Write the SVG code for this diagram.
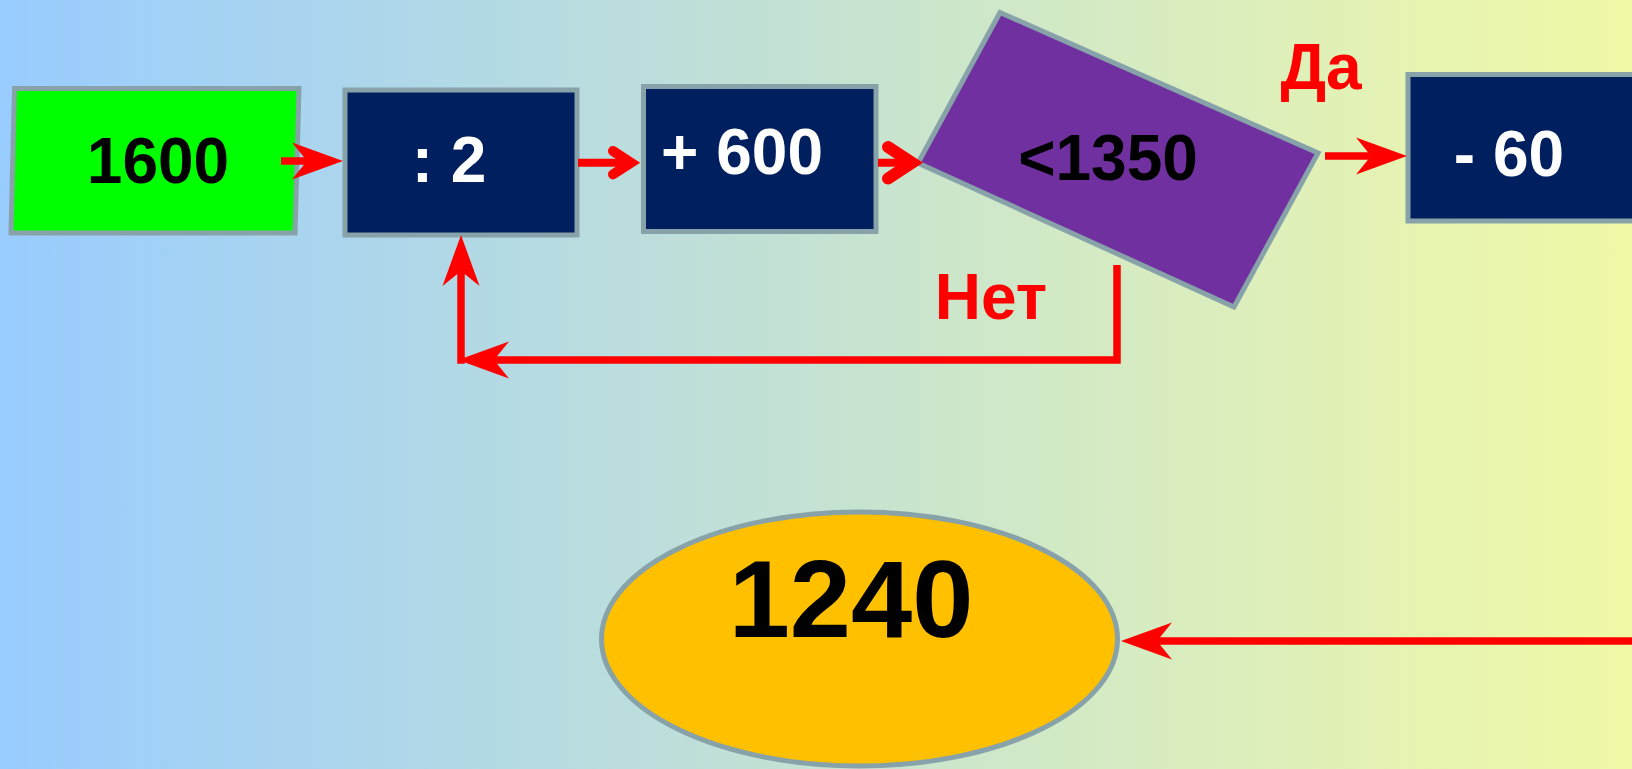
<svg xmlns="http://www.w3.org/2000/svg" width="1632" height="769" viewBox="0 0 1632 769">
  <defs>
    <linearGradient id="bg" x1="0" y1="0" x2="1" y2="0">
      <stop offset="0" stop-color="#99CCFF"/>
      <stop offset="1" stop-color="#F1F9A6"/>
    </linearGradient>
    <marker id="stealth" markerUnits="userSpaceOnUse" viewBox="-20 -20 60 40" markerWidth="60" markerHeight="40" refX="0" refY="0" orient="auto" overflow="visible">
      <path d="M36,0 L-15,-18.5 L0,0 L-15,18.5 Z" fill="#FF0000"/>
    </marker>
    <style>
      .node { stroke: #87A2A8; stroke-width: 5; }
      .navy { fill: #001F5F; }
      .lbl { font-family: "Liberation Sans", Arial, sans-serif; font-weight: bold; font-size: 64px; text-anchor: middle; }
      .white { fill: #FFFFFF; }
      .black { fill: #000000; }
      .red { fill: #FF0000; }
      .conn { fill: none; stroke: #FF0000; stroke-width: 7.5; }
      .shaft { fill: none; stroke: #FF0000; stroke-width: 8; }
      .chev { fill: none; stroke: #FF0000; stroke-linecap: round; stroke-linejoin: miter; stroke-miterlimit: 6; }
    </style>
  </defs>

  <rect x="0" y="0" width="1632" height="769" fill="url(#bg)"/>

  <g id="node-1600">
    <polygon class="node" points="14.5,88.5 299,88.5 295,233 11,233" fill="#00FF00"/>
    <text class="lbl black" x="158" y="183">1600</text>
  </g>

  <g id="node-div2">
    <rect class="node navy" x="345" y="90" width="232" height="145"/>
    <text class="lbl white" x="449" y="182">: 2</text>
  </g>

  <g id="node-plus600">
    <rect class="node navy" x="643.5" y="86.5" width="232.5" height="145"/>
    <text class="lbl white" x="742" y="174">+ 600</text>
  </g>

  <g id="node-cond">
    <polygon class="node" points="1000,12.5 1318,153 1234,307 918,163" fill="#7030A0"/>
    <text class="lbl black" x="1108" y="180">&lt;1350</text>
  </g>

  <g id="node-minus60">
    <rect class="node navy" x="1408" y="74.5" width="240" height="146.5"/>
    <text class="lbl white" x="1509" y="176">- 60</text>
  </g>

  <g id="node-1240">
    <ellipse class="node" cx="859.5" cy="639" rx="258" ry="127" fill="#FFC000"/>
    <text class="lbl black" x="851" y="637" style="font-size:110px">1240</text>
  </g>

  <g id="connectors">
    <path class="conn" d="M281,161 H307" marker-end="url(#stealth)"/>
    <path class="shaft" d="M578,162.7 H632"/>
    <path class="chev" style="stroke-width:10" d="M613,151 L631,162.7 L613,174.4"/>
    <path class="shaft" d="M878,162.7 H912"/>
    <path class="chev" style="stroke-width:12" d="M888,147 L912,162.7 L888,178.4"/>
    <path class="conn" d="M1325,156 H1371" marker-end="url(#stealth)"/>
    <path class="conn" d="M461,363.75 V271" marker-end="url(#stealth)"/>
    <path class="conn" d="M1117,265 V360 H494" marker-end="url(#stealth)"/>
    <path class="conn" d="M1632,641 H1157" marker-end="url(#stealth)"/>
  </g>

  <g id="labels">
    <text class="lbl red" x="991" y="319">Нет</text>
    <text class="lbl red" x="1321" y="89">Да</text>
  </g>
</svg>
